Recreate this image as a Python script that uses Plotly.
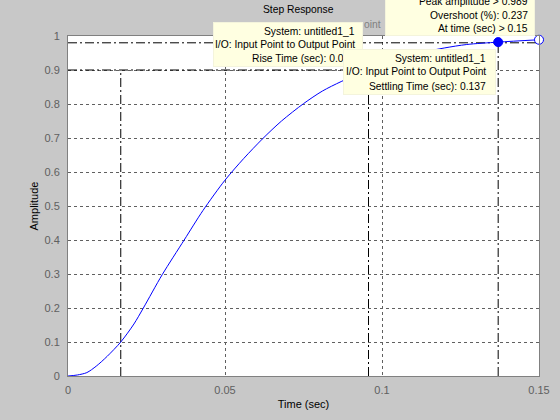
import plotly.graph_objects as go

# ---------------- data ----------------
time = [0, 0.003, 0.006, 0.009, 0.0125, 0.0168, 0.021, 0.024, 0.030, 0.037,
        0.043, 0.050, 0.056, 0.062, 0.068, 0.075, 0.081, 0.087, 0.0957, 0.104,
        0.112, 0.120, 0.127, 0.137, 0.150]
amplitude = [0, 0.003, 0.010, 0.029, 0.058, 0.100, 0.153, 0.200, 0.298, 0.400,
             0.487, 0.576, 0.640, 0.698, 0.750, 0.801, 0.838, 0.866, 0.900, 0.928,
             0.950, 0.965, 0.975, 0.982, 0.989]

x_ticks = [0, 0.05, 0.1, 0.15]
x_tick_labels = ["0", "0.05", "0.1", "0.15"]
y_ticks = [0, 0.1, 0.2, 0.3, 0.4, 0.5, 0.6, 0.7, 0.8, 0.9, 1]
y_tick_labels = ["0", "0.1", "0.2", "0.3", "0.4", "0.5", "0.6", "0.7", "0.8", "0.9", "1"]

rise_levels = [0.1, 0.9]
rise_times = [0.0168, 0.0957]
settle_level = 0.98
settle_time = 0.137
settle_amp = 0.982
peak_time = 0.15
peak_amp = 0.989

peak_lines = ["Peak amplitude > 0.989", "Overshoot (%): 0.237", "At time (sec) > 0.15"]
rise_lines = ["System: untitled1_1", "I/O: Input Point to Output Point", "Rise Time (sec): 0.079"]
settle_lines = ["System: untitled1_1", "I/O: Input Point to Output Point", "Settling Time (sec): 0.137"]

# ---------------- layout geometry ----------------
W, H = 560, 420
L, R, T, B = 68, 21, 36, 44
PW, PH = W - L - R, H - T - B
FONT = "Liberation Sans, Arial, sans-serif"
DASHDOT = "9px,3px,2px,3px"


def px(x):
    return (x - L) / PW


def py(y):
    return (H - B - y) / PH


fig = go.Figure()

char_line = dict(color="black", width=1, dash=DASHDOT)
xmax = x_ticks[-1]
fig.add_trace(go.Scatter(x=[0, xmax], y=[settle_level, settle_level], mode="lines",
                         line=char_line, hoverinfo="skip"))
fig.add_trace(go.Scatter(x=[0, rise_times[1]], y=[rise_levels[1], rise_levels[1]], mode="lines",
                         line=char_line, hoverinfo="skip"))
for t in rise_times:
    fig.add_trace(go.Scatter(x=[t, t], y=[0, rise_levels[1]], mode="lines",
                             line=char_line, hoverinfo="skip"))
fig.add_trace(go.Scatter(x=[settle_time, settle_time], y=[0, settle_level], mode="lines",
                         line=char_line, hoverinfo="skip"))

fig.add_trace(go.Scatter(x=time, y=amplitude, mode="lines",
                         line=dict(color="#0000FF", width=1, shape="spline", smoothing=0.8)))

fig.add_trace(go.Scatter(x=[settle_time], y=[settle_amp], mode="markers",
                         marker=dict(color="#0000FF", size=9, line=dict(color="#0000FF", width=1)),
                         cliponaxis=False))
fig.add_trace(go.Scatter(x=[peak_time], y=[peak_amp], mode="markers",
                         marker=dict(color="white", size=9, line=dict(color="#0000FF", width=1)),
                         cliponaxis=False))

annotations = []
BOX_BG = "#FFFFE1"
BOX_BORDER = "#F4F4DC"


def add_box(x0, x1, y0, y1):
    annotations.append(dict(
        xref="paper", yref="paper", x=px(x0), y=py(y0), xanchor="left", yanchor="top",
        text=" ", showarrow=False, width=x1 - x0 - 2, height=y1 - y0 - 2,
        borderpad=0, borderwidth=1, bgcolor=BOX_BG, bordercolor=BOX_BORDER,
        font=dict(size=4)))


def add_lines(lines, xright, ycenters, color="black"):
    for s, yc in zip(lines, ycenters):
        annotations.append(dict(
            xref="paper", yref="paper", x=px(xright), y=py(yc), xanchor="right", yanchor="middle",
            text=s, showarrow=False, font=dict(family=FONT, size=10.3, color=color)))


# title as text
annotations.append(dict(xref="paper", yref="paper", x=px(298), y=py(9), xanchor="center",
                        yanchor="middle", text="Step Response", showarrow=False,
                        font=dict(family=FONT, size=10.3, color="black")))
# peak box (top clipped by window)
add_box(385, 535, -12, 36)
add_lines(peak_lines, 530, [2, 15, 28])
# partially hidden text behind
add_lines(["oint"], 383, [25], color="#808080")
# rise time box
add_box(213, 363, 22, 67)
add_lines(rise_lines, 357, [31, 44.5, 58.5])
# settling time box
add_box(343, 496, 49, 95)
add_lines(settle_lines, 488, [58.7, 72, 86])

fig.update_layout(
    width=W, height=H, autosize=False,
    margin=dict(l=L, r=R, t=T, b=B, pad=0, autoexpand=False),
    paper_bgcolor="#C8C8C8", plot_bgcolor="white",
    showlegend=False,
    font=dict(family=FONT, size=11, color="black"),
    annotations=annotations,
)
fig.update_xaxes(
    range=[0, xmax], tickvals=x_ticks, ticktext=x_tick_labels, automargin=False,
    showgrid=True, gridcolor="#606060", griddash="3px,3px", gridwidth=1,
    zeroline=False, showline=True, mirror=True, linecolor="#808080", linewidth=1,
    ticks="", tickfont=dict(family=FONT, size=11, color="#606060"), ticklabelstandoff=4,
    title=dict(text="Time (sec)", font=dict(family=FONT, size=11, color="black"), standoff=5),
)
fig.update_yaxes(
    range=[0, 1], tickvals=y_ticks, ticktext=y_tick_labels, automargin=False,
    showgrid=True, gridcolor="#606060", griddash="3px,3px", gridwidth=1,
    zeroline=False, showline=True, mirror=True, linecolor="#808080", linewidth=1,
    ticks="", tickfont=dict(family=FONT, size=11, color="#606060"), ticklabelstandoff=5,
    title=dict(text="Amplitude", font=dict(family=FONT, size=11, color="black"), standoff=3),
)

fig.write_html("out.html", config={"displayModeBar": False},
               post_script="document.body.style.margin='0';document.body.style.overflow='hidden';"
                           "document.body.style.background='#C8C8C8';")
